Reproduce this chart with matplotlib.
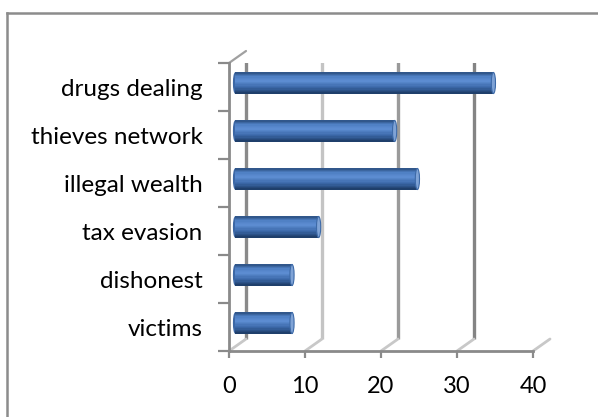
import numpy as np
import matplotlib
matplotlib.use("Agg")
import matplotlib.pyplot as plt
from matplotlib.transforms import ScaledTranslation
from matplotlib.patches import Ellipse
from matplotlib.lines import Line2D
from matplotlib.colors import to_rgb

categories = ["victims", "dishonest", "tax evasion", "illegal wealth",
              "thieves network", "drugs dealing"]
values = [7.5, 7.5, 11, 24, 21, 34]
xticks = [0, 10, 20, 30, 40]

W, H, DPI = 598, 417, 100
plt.rcParams["font.family"] = ["Lato", "DejaVu Sans"]

fig = plt.figure(figsize=(W / DPI, H / DPI), dpi=DPI)
# plot area in pixels: x 229..533, y 63..351 (from top)
ax = fig.add_axes([229 / W, (H - 351) / H, (533 - 229) / W, (351 - 63) / H])
ax.set_xlim(0, 40)
ax.set_ylim(-0.5, len(categories) - 0.5)
ax.patch.set_visible(False)

def shift(dx, dy):
    return ax.transData + ScaledTranslation(dx / DPI, dy / DPI, fig.dpi_scale_trans)

back = shift(17, 12)
mid = shift(6, 4)

# back wall gridlines and floor diagonals
grid_cols = ["#8a8a8a", "#c4c4c4", "#9a9a9a", "#848484", "#c8c8c8"]
ytop = len(categories) - 0.5
for v, c in zip(xticks, grid_cols):
    ax.plot([v, v], [-0.5, ytop], color=c, lw=2.4, transform=back,
            solid_capstyle="butt", zorder=1)
    ax.annotate("", xy=(v, -0.5), xytext=(17, 12), textcoords="offset pixels",
                arrowprops=dict(arrowstyle="-", color="#c8c8c8", lw=2.0,
                                shrinkA=0, shrinkB=0), zorder=1)
# top of left wall
ax.annotate("", xy=(0, ytop), xytext=(17, 12), textcoords="offset pixels",
            arrowprops=dict(arrowstyle="-", color="#a0a0a0", lw=1.6,
                            shrinkA=0, shrinkB=0), zorder=1)

# cylinder bars
anchors = [(0.0, "#2b4f80"), (0.2, "#4f80c4"), (0.4, "#5d8dd2"),
           (0.7, "#3b68a8"), (1.0, "#1c3a64")]
K = 16
pos = np.array([a[0] for a in anchors])
rgb = np.array([to_rgb(a[1]) for a in anchors])
h = 0.44
ys = np.arange(len(categories))
for k in range(K):
    t = (k + 0.5) / K
    col = [np.interp(t, pos, rgb[:, i]) for i in range(3)]
    yoff = h / 2 - (k + 0.5) * h / K
    ax.barh(ys + yoff, values, height=h / K + 0.004, left=0, color=col,
            transform=mid, zorder=3, linewidth=0)
for y, v in zip(ys, values):
    ax.add_patch(Ellipse((v, y), 0.55, h, facecolor="#7fa3d6",
                         edgecolor="#3d6aa8", lw=0.8, transform=mid, zorder=4))
    ax.add_patch(Ellipse((0, y), 0.55, h, facecolor="#3c67a5",
                         edgecolor="none", transform=mid, zorder=2))

# front axes
for s in ["top", "right"]:
    ax.spines[s].set_visible(False)
for s in ["left", "bottom"]:
    ax.spines[s].set_color("#8a8a8a")
    ax.spines[s].set_linewidth(2.0)
ax.set_yticks(np.arange(-0.5, len(categories), 1.0))
ax.set_yticklabels([])
ax.set_yticks(ys, minor=True)
ax.set_yticklabels(categories, minor=True, fontsize=17.5, color="#000000")
ax.tick_params(axis="y", which="major", length=8, width=1.6, color="#8a8a8a",
               direction="out")
ax.tick_params(axis="y", which="minor", length=0, pad=19)
ax.set_xticks(xticks)
ax.set_xticklabels([str(v) for v in xticks], fontsize=17)
ax.tick_params(axis="x", length=5, width=1.6, color="#8a8a8a", pad=13)

# chart border (left and top visible)
fig.add_artist(Line2D([7 / W, 7 / W], [0, 1 - 13 / H], color="#8c8c8c",
                      lw=1.8, transform=fig.transFigure))
fig.add_artist(Line2D([7 / W, 1], [1 - 13 / H, 1 - 13 / H], color="#8c8c8c",
                      lw=1.8, transform=fig.transFigure))

fig.savefig("out.png", dpi=DPI)
